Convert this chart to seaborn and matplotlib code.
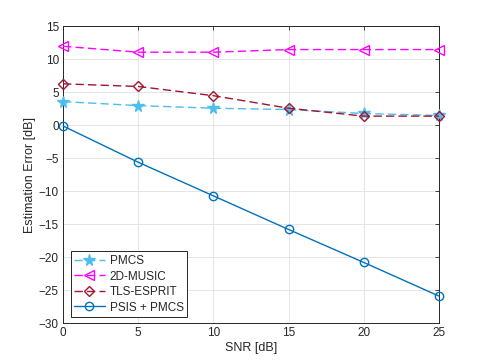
import matplotlib
matplotlib.use("Agg")
import matplotlib.pyplot as plt
import seaborn as sns
import pandas as pd

snr = [0, 5, 10, 15, 20, 25]
pmcs = [3.6, 3.0, 2.6, 2.4, 1.8, 1.5]
music = [12.0, 11.1, 11.1, 11.5, 11.5, 11.5]
esprit = [6.3, 5.9, 4.5, 2.6, 1.4, 1.4]
psis = [-0.1, -5.6, -10.7, -15.8, -20.8, -25.9]
labels = ["PMCS", "2D-MUSIC", "TLS-ESPRIT", "PSIS + PMCS"]

sns.set_style("white")
plt.rcParams['font.family'] = ['Liberation Sans', 'DejaVu Sans']

fig = plt.figure(figsize=(4.85, 3.63), dpi=100)
ax = fig.add_axes([0.13, 0.11, 0.775, 0.817])

styles = [
    (pmcs, labels[0], "#4DBEEE", "*", (0, (6, 3)), 8.5),
    (music, labels[1], "#FF00FF", "<", (0, (6, 3)), 7.5),
    (esprit, labels[2], "#A2142F", "D", (0, (6, 3)), 5.5),
    (psis, labels[3], "#0072BD", "o", "-", 6),
]
for vals, lab, col, mk, ls, ms in styles:
    df = pd.DataFrame({"x": snr, "y": vals})
    sns.lineplot(data=df, x="x", y="y", ax=ax, color=col, marker=mk,
                 linestyle=ls, markersize=ms, markerfacecolor="none" if mk != "*" else col,
                 markeredgecolor=col, markeredgewidth=1.0, linewidth=1.0, label=lab,
                 clip_on=False, zorder=3)

ax.set_xlim(0, 25)
ax.set_ylim(-30, 15)
ax.set_xticks([0, 5, 10, 15, 20, 25])
ax.set_yticks(range(-30, 16, 5))
ax.grid(True, color="#e5e5e5", linewidth=0.7)
ax.set_axisbelow(True)
for s in ax.spines.values():
    s.set_color("#262626")
    s.set_linewidth(0.7)
ax.tick_params(axis="both", labelsize=8.5, colors="#262626", direction="in",
               length=3, width=0.6, top=True, right=True, pad=3)
ax.set_xlabel("SNR [dB]", fontsize=9, color="#262626", labelpad=2)
ax.set_ylabel("Estimation Error [dB]", fontsize=9, color="#262626", labelpad=2)

leg = ax.legend(loc="lower left", fontsize=8.5, frameon=True, fancybox=False,
                edgecolor="#262626", framealpha=1, handlelength=2.6, numpoints=1,
                borderpad=0.3, labelspacing=0.3, handletextpad=0.4,
                borderaxespad=0, bbox_to_anchor=(0.02, 0.02))
leg.get_frame().set_linewidth(0.7)

fig.savefig("out.png", dpi=100)
